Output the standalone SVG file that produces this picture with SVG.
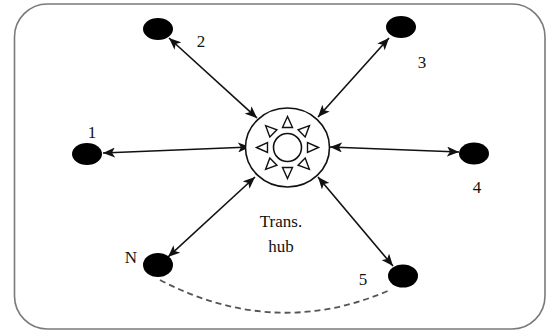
<svg xmlns="http://www.w3.org/2000/svg" xmlns:xlink="http://www.w3.org/1999/xlink" width="546" height="331" viewBox="0 0 546 331">
<style>
.lbl{font-family:"Liberation Serif","Times New Roman",serif;font-size:17px;fill:#111;text-anchor:middle}
.node{fill:#000}
.conn{stroke:#111;stroke-width:1.6;fill:none;marker-start:url(#ah);marker-end:url(#ah)}
.tri{fill:#fff;stroke:#111;stroke-width:1.4;stroke-linejoin:miter}
</style>
<defs>
<marker id="ah" markerWidth="13" markerHeight="10" refX="12" refY="5" orient="auto-start-reverse" markerUnits="userSpaceOnUse">
<path d="M0,0 L12,5 L0,10 L3,5 z" fill="#111"/>
</marker>
<polygon id="tri" points="0,-31 -5,-20 5,-20"/>
</defs>
<rect x="0" y="0" width="546" height="331" fill="#fff"/>
<rect x="14.5" y="4" width="530.5" height="325" rx="33" ry="33" fill="#fff" stroke="#7a7a7a" stroke-width="1.6"/>
<g id="connectors">
<line class="conn" x1="169" y1="38" x2="257" y2="118"/>
<line class="conn" x1="389" y1="38" x2="318" y2="117"/>
<line class="conn" x1="103" y1="153" x2="250" y2="147"/>
<line class="conn" x1="459" y1="152" x2="330" y2="147"/>
<line class="conn" x1="168" y1="257" x2="255" y2="177"/>
<line class="conn" x1="393" y1="266" x2="318" y2="177"/>
<path d="M160,280 Q275,340 390,290" fill="none" stroke="#555" stroke-width="1.8" stroke-dasharray="6,4"/>
</g>
<g id="hub">
<ellipse cx="287.5" cy="147.5" rx="42" ry="39.5" fill="#fff" stroke="#111" stroke-width="1.6"/>
<circle cx="287.5" cy="147.5" r="14" fill="#fff" stroke="#111" stroke-width="1.6"/>
<g transform="translate(287.5,147.5)" class="tri">
<use xlink:href="#tri"/>
<use xlink:href="#tri" transform="rotate(45)"/>
<use xlink:href="#tri" transform="rotate(90)"/>
<use xlink:href="#tri" transform="rotate(135)"/>
<use xlink:href="#tri" transform="rotate(180)"/>
<use xlink:href="#tri" transform="rotate(225)"/>
<use xlink:href="#tri" transform="rotate(270)"/>
<use xlink:href="#tri" transform="rotate(315)"/>
</g>
<text class="lbl" x="281" y="227">Trans.</text>
<text class="lbl" x="281" y="252">hub</text>
</g>
<g id="node1"><ellipse class="node" cx="87" cy="154" rx="15" ry="11"/><text class="lbl" x="92" y="138">1</text></g>
<g id="node2"><ellipse class="node" cx="158" cy="29" rx="15" ry="11"/><text class="lbl" x="201" y="47">2</text></g>
<g id="node3"><ellipse class="node" cx="401" cy="27" rx="15" ry="11"/><text class="lbl" x="422" y="68">3</text></g>
<g id="node4"><ellipse class="node" cx="474" cy="153.5" rx="15" ry="11"/><text class="lbl" x="477" y="193">4</text></g>
<g id="node5"><ellipse class="node" cx="403" cy="276" rx="15" ry="11.5"/><text class="lbl" x="363" y="285">5</text></g>
<g id="nodeN"><ellipse class="node" cx="158" cy="265" rx="15" ry="12"/><text class="lbl" x="131" y="263">N</text></g>
</svg>
